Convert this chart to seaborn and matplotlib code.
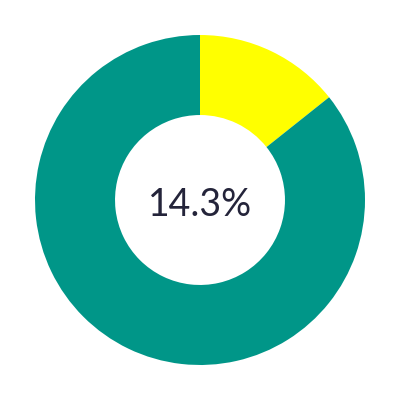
import matplotlib
matplotlib.use("Agg")
import matplotlib.pyplot as plt
import seaborn as sns

labels = ["Share", "Rest"]
values = [14.3, 85.7]
colors = ["#ffff00", "#009688"]
center_label = "14.3%"

sns.set_theme(style="white")
plt.rcParams['font.family'] = ['Lato', 'DejaVu Sans']

fig = plt.figure(figsize=(4, 4), dpi=100)
ax = fig.add_axes([0, 0, 1, 1])
ax.pie(values, colors=colors, startangle=90, counterclock=False,
       radius=1.0, wedgeprops=dict(width=0.485, linewidth=0))
ax.text(0, -0.03, center_label, ha="center", va="center", fontsize=27,
        color="#24243a", fontweight="normal")
lim = 200 / 165
ax.set_xlim(-lim, lim)
ax.set_ylim(-lim, lim)
ax.set_aspect("equal")
ax.axis("off")
fig.savefig("out.png", dpi=100)
